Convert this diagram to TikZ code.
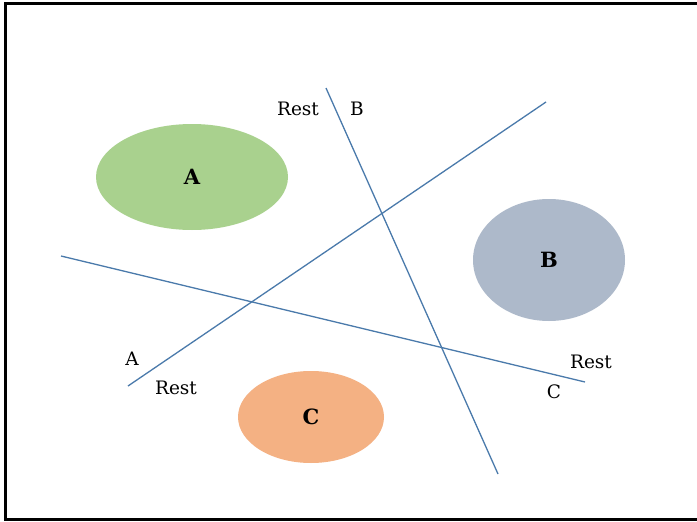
\documentclass[tikz,border=0pt]{standalone}
\usepackage{fontspec}
\setmainfont{DejaVu Serif}
\usetikzlibrary{shapes.geometric}
\definecolor{cA}{HTML}{A9D18E}
\definecolor{cB}{HTML}{ADB9CA}
\definecolor{cC}{HTML}{F4B183}
\definecolor{ln}{HTML}{4A7AAB}
\tikzset{
  blob/.style={ellipse, inner sep=0pt, font=\fontsize{21}{21}\selectfont\bfseries},
  sep/.style={draw=ln, line width=1.3pt},
  lab/.style={inner sep=0pt, font=\fontsize{18.5}{18.5}\selectfont},
}
\begin{document}
\begin{tikzpicture}[x=1pt,y=-1pt]
\useasboundingbox (0,0) rectangle (697,522);
\fill[white] (0,0) rectangle (697,522);
\draw[line width=2.2pt] (700,3.5) -- (5.5,3.5) -- (5.5,519.5) -- (700,519.5);
% regions
\node[blob, fill=cA, minimum width=192, minimum height=106] (ea) at (192,177) {A};
\node[blob, fill=cB, minimum width=152, minimum height=122] (eb) at (549,260) {B};
\node[blob, fill=cC, minimum width=146, minimum height=92] (ec) at (311,417) {C};
% separating lines
\coordinate (l1a) at (326,88);
\coordinate (l1b) at (498,474);
\coordinate (l2a) at (128,386);
\coordinate (l2b) at (546,102);
\coordinate (l3a) at (61,256);
\coordinate (l3b) at (585,382);
\draw[sep] (l1a) -- (l1b);
\draw[sep] (l2a) -- (l2b);
\draw[sep] (l3a) -- (l3b);
% labels
\node[lab] (t1) at (298,109) {Rest};
\node[lab] (t2) at (357,109) {B};
\node[lab] (t3) at (132,359) {A};
\node[lab] (t4) at (176,388) {Rest};
\node[lab] (t5) at (591,362) {Rest};
\node[lab] (t6) at (554,392) {C};
\end{tikzpicture}
\end{document}
